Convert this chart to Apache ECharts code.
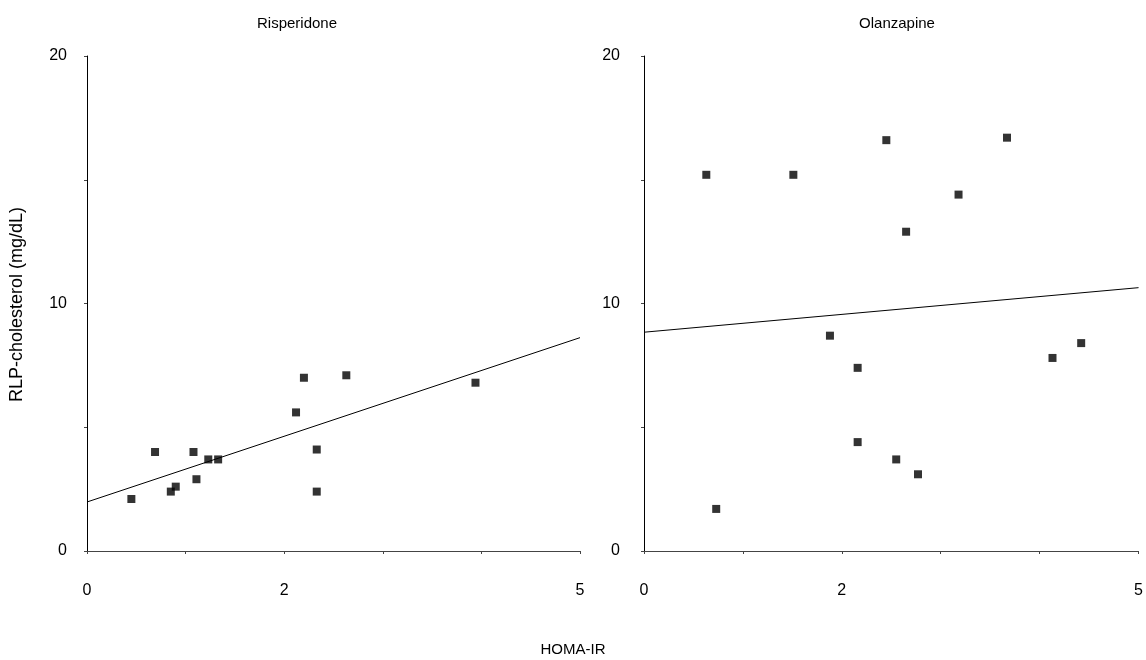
<!DOCTYPE html>
<html>
<head>
<meta charset="utf-8">
<script src="https://cdn.jsdelivr.net/npm/echarts@6/dist/echarts.min.js"></script>
<style>
  html, body { margin: 0; padding: 0; background: #fff; }
  #chart { width: 1146px; height: 660px; }
</style>
</head>
<body>
<div id="chart"></div>
<script>
// panel titles
const panelTitles = ['Risperidone', 'Olanzapine'];

// HOMA-IR / RLP-cholesterol points
const risperidonePoints = [
  [0.45, 2.1], [0.69, 4.0], [0.85, 2.4], [0.9, 2.6], [1.08, 4.0], [1.11, 2.9],
  [1.23, 3.7], [1.33, 3.7], [2.12, 5.6], [2.2, 7.0], [2.33, 4.1], [2.33, 2.4],
  [2.63, 7.1], [3.94, 6.8]
];
const olanzapinePoints = [
  [0.63, 15.2], [1.51, 15.2], [2.45, 16.6], [3.67, 16.7], [3.18, 14.4], [2.65, 12.9],
  [1.88, 8.7], [2.16, 7.4], [4.13, 7.8], [4.42, 8.4], [2.16, 4.4], [2.55, 3.7],
  [2.77, 3.1], [0.73, 1.7]
];

// regression lines (endpoints at x = 0 and x = 5)
const risperidoneFit = [[0, 1.98], [5, 8.62]];
const olanzapineFit = [[0, 8.84], [5, 10.64]];

// tick labels that are printed
const xTickLabels = [0, 2, 5];
const yTickLabels = [0, 10, 20];

const chart = echarts.init(document.getElementById('chart'));
const font = 'Liberation Sans, Arial, sans-serif';

function xAxis(gridIndex) {
  return {
    type: 'value', gridIndex, min: 0, max: 5, interval: 1,
    splitLine: { show: false },
    axisLine: { lineStyle: { color: '#444', width: 1 } },
    axisTick: { length: 3, lineStyle: { color: '#444' } },
    axisLabel: {
      margin: 32, color: '#000', fontSize: 16, fontFamily: font,
      formatter: (v) => (xTickLabels.includes(v) ? String(v) : ''),
    },
  };
}
function yAxis(gridIndex, margin) {
  return {
    type: 'value', gridIndex, min: 0, max: 20, interval: 5,
    splitLine: { show: false },
    axisLine: { show: true, lineStyle: { color: '#000', width: 1 } },
    axisTick: { show: true, length: 3, lineStyle: { color: '#444' } },
    axisLabel: {
      margin, color: '#000', fontSize: 16, fontFamily: font,
      formatter: (v) => (yTickLabels.includes(v) ? String(v) : ''),
    },
  };
}
function scatter(i, data) {
  return {
    type: 'scatter', xAxisIndex: i, yAxisIndex: i, data,
    symbol: 'rect', symbolSize: 8,
    itemStyle: { color: '#000' }, silent: true,
  };
}
function fitLine(i, data) {
  return {
    type: 'line', xAxisIndex: i, yAxisIndex: i, data,
    showSymbol: false, silent: true,
    lineStyle: { color: '#000', width: 1 },
  };
}

chart.setOption({
  animation: false,
  textStyle: { fontFamily: font },
  title: [
    { text: panelTitles[0], left: 292, top: 11, textAlign: 'center',
      textStyle: { fontSize: 15, fontWeight: 'normal', color: '#000' } },
    { text: panelTitles[1], left: 892, top: 11, textAlign: 'center',
      textStyle: { fontSize: 15, fontWeight: 'normal', color: '#000' } },
  ],
  graphic: [
    { type: 'text', x: 573, y: 642,
      style: { text: 'HOMA-IR', fontSize: 15, fontFamily: font, fill: '#000', align: 'center' } },
    { type: 'text', x: 8, y: 402, rotation: Math.PI / 2,
      style: { text: 'RLP-cholesterol (mg/dL)', fontSize: 18, fontFamily: font, fill: '#000' } },
  ],
  grid: [
    { left: 87, right: 566, top: 56, bottom: 109 },
    { left: 644, right: 6, top: 56, bottom: 109 },
  ],
  xAxis: [xAxis(0), xAxis(1)],
  yAxis: [yAxis(0, 20), yAxis(1, 24)],
  series: [
    scatter(0, risperidonePoints),
    fitLine(0, risperidoneFit),
    scatter(1, olanzapinePoints),
    fitLine(1, olanzapineFit),
  ],
});
</script>
</body>
</html>
